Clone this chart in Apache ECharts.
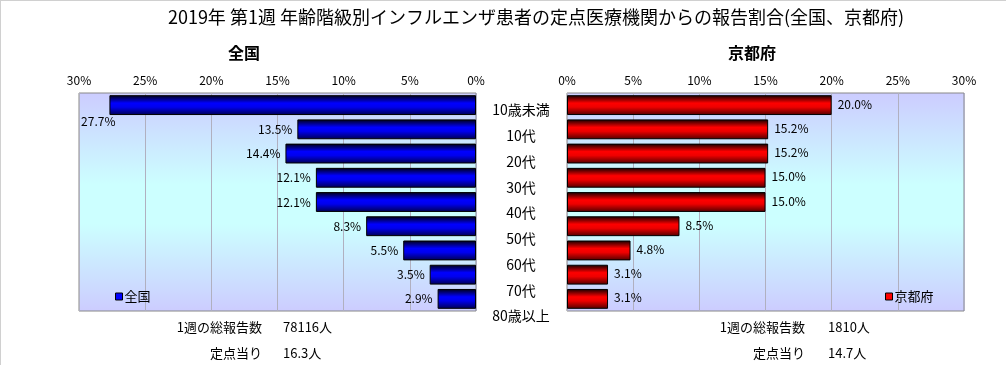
<!DOCTYPE html>
<html><head><meta charset="utf-8">
<script src="https://cdn.jsdelivr.net/npm/echarts@6/dist/echarts.min.js"></script>
<style>html,body{margin:0;padding:0;background:#fff}#c{width:1006px;height:365px}</style>
</head><body><div id="c"></div>
<script>
const categories = ['10歳未満','10代','20代','30代','40代','50代','60代','70代','80歳以上'];
const zenkoku = [27.7,13.5,14.4,12.1,12.1,8.3,5.5,3.5,2.9];
const kyoto = [20.0,15.2,15.2,15.0,15.0,8.5,4.8,3.1,3.1];
const tickMax = 30, tickStep = 5;
const mainTitle = '2019年 第1週 年齢階級別インフルエンザ患者の定点医療機関からの報告割合(全国、京都府)';
const leftTitle = '全国', rightTitle = '京都府';
const leftStats = [['1週の総報告数','78116人'],['定点当り','16.3人']];
const rightStats = [['1週の総報告数','1810人'],['定点当り','14.7人']];

const FONT = '"Noto Sans CJK JP", sans-serif';
const chart = echarts.init(document.getElementById('c'));
function bgGrad(){
  return new echarts.graphic.LinearGradient(0,0,0,1,[
    {offset:0,color:'#ccccff'},{offset:0.42,color:'#ccffff'},{offset:0.6,color:'#ccffff'},{offset:1,color:'#ccccff'}]);
}
const blueGrad = new echarts.graphic.LinearGradient(0,0,0,1,[
  {offset:0,color:'#000010'},{offset:0.4,color:'#0000ff'},{offset:0.6,color:'#0000ee'},{offset:1,color:'#000050'}]);
const redGrad = new echarts.graphic.LinearGradient(0,0,0,1,[
  {offset:0,color:'#100000'},{offset:0.4,color:'#ff0000'},{offset:0.6,color:'#ee0000'},{offset:1,color:'#500000'}]);

function xAx(idx, inverse){
  return {gridIndex:idx, type:'value', min:0, max:tickMax, interval:tickStep, inverse:inverse, position:'top',
    axisLine:{show:false}, axisTick:{show:false},
    axisLabel:{formatter:'{value}%', fontSize:12, color:'#000', margin:7, fontFamily:FONT},
    splitLine:{show:true, lineStyle:{color:'#b0b0c0', width:1}}};
}
function yAx(idx){
  return {gridIndex:idx, type:'category', data:categories, inverse:true,
    axisLine:{show:false}, axisTick:{show:false}, axisLabel:{show:false}, splitLine:{show:false}};
}
const statTexts = [];
[[leftStats,262,283],[rightStats,805,828]].forEach(([st,xr,xl])=>{
  st.forEach((row,i)=>{
    const y = 327 + i*26;
    statTexts.push({type:'text', x:xr, y:y, style:{text:row[0], align:'right', verticalAlign:'middle', fontSize:13, fontFamily:FONT, fill:'#000'}});
    statTexts.push({type:'text', x:xl, y:y, style:{text:row[1], align:'left', verticalAlign:'middle', fontSize:13, fontFamily:FONT, fill:'#000'}});
  });
});

chart.setOption({
  backgroundColor:'#fff',
  animation:false,
  grid:[
    {left:79, top:93, width:397, height:218, show:true, backgroundColor:bgGrad(), borderColor:'#888', borderWidth:1},
    {left:567, top:93, width:397, height:218, show:true, backgroundColor:bgGrad(), borderColor:'#888', borderWidth:1},
    {left:521, top:97, width:1, height:232, show:false}
  ],
  xAxis:[xAx(0,true), xAx(1,false), {gridIndex:2, type:'value', show:false}],
  yAxis:[yAx(0), yAx(1), {gridIndex:2, type:'category', data:categories, inverse:true,
    axisLine:{show:false}, axisTick:{show:false}, splitLine:{show:false},
    axisLabel:{show:true, align:'center', margin:0, fontSize:14, color:'#000', fontFamily:FONT}}],
  legend:[
    {data:['全国'], left:115, top:290, icon:'rect', itemWidth:7, itemHeight:7, padding:0, itemGap:0,
      itemStyle:{color:'#0000ff', borderColor:'#000', borderWidth:1},
      textStyle:{fontSize:13, color:'#000', fontFamily:FONT, padding:[0,0,0,-3]}},
    {data:['京都府'], left:885, top:290, icon:'rect', itemWidth:7, itemHeight:7, padding:0, itemGap:0,
      itemStyle:{color:'#ff0000', borderColor:'#000', borderWidth:1},
      textStyle:{fontSize:13, color:'#000', fontFamily:FONT, padding:[0,0,0,-3]}}
  ],
  series:[
    {name:'全国', type:'bar', xAxisIndex:0, yAxisIndex:0, barCategoryGap:'18%',
      data: zenkoku.map((v,i)=> i===0 ? {value:v, label:{position:'left', offset:[11,16]}} : v),
      itemStyle:{color:blueGrad, borderColor:'#000', borderWidth:1},
      label:{show:true, position:'left', distance:5, formatter:p=>p.value.toFixed(1)+'%', fontSize:12, color:'#000', fontFamily:FONT}},
    {name:'京都府', type:'bar', xAxisIndex:1, yAxisIndex:1, barCategoryGap:'18%',
      data: kyoto,
      itemStyle:{color:redGrad, borderColor:'#000', borderWidth:1},
      label:{show:true, position:'right', distance:6, offset:[0,-1], formatter:p=>p.value.toFixed(1)+'%', fontSize:12, color:'#000', fontFamily:FONT}},
    {type:'bar', xAxisIndex:2, yAxisIndex:2, data:[], silent:true}
  ],
  graphic:[
    {type:'line', shape:{x1:0,y1:0.5,x2:1006,y2:0.5}, style:{stroke:'#d0d0d0', lineWidth:1}},
    {type:'line', shape:{x1:0.5,y1:0,x2:0.5,y2:365}, style:{stroke:'#d0d0d0', lineWidth:1}},
    {type:'text', x:536, y:17, style:{text:mainTitle, align:'center', verticalAlign:'middle', fontSize:18, fontFamily:FONT, fill:'#000'}},
    {type:'text', x:244, y:53, style:{text:leftTitle, align:'center', verticalAlign:'middle', fontSize:16, fontWeight:'bold', fontFamily:FONT, fill:'#000'}},
    {type:'text', x:752, y:53, style:{text:rightTitle, align:'center', verticalAlign:'middle', fontSize:16, fontWeight:'bold', fontFamily:FONT, fill:'#000'}}
  ].concat(statTexts)
});
</script></body></html>
